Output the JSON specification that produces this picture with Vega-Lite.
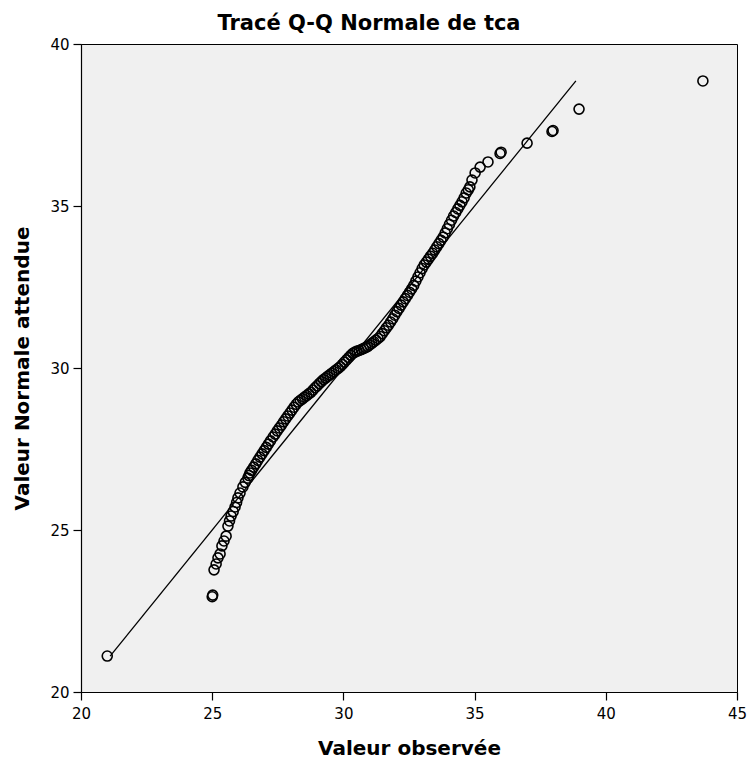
{
  "$schema": "https://vega.github.io/schema/vega-lite/v6.json",
  "width": 656,
  "height": 648,
  "autosize": "none",
  "padding": {"left": 81, "top": 44, "right": 10, "bottom": 72},
  "background": "white",
  "config": {
    "view": {"fill": "#F0F0F0", "stroke": "#000000", "strokeWidth": 1},
    "font": "DejaVu Sans",
    "axis": {
      "grid": false,
      "domainColor": "#000000",
      "domainWidth": 1.2,
      "tickColor": "#000000",
      "tickWidth": 1.2,
      "labelColor": "#000000",
      "labelFont": "DejaVu Sans",
      "labelFontSize": 15,
      "titleFont": "DejaVu Sans",
      "titleFontSize": 20,
      "titleFontWeight": "bold",
      "titleColor": "#000000"
    }
  },
  "title": {
    "text": "Tracé Q-Q Normale de tca",
    "font": "DejaVu Sans",
    "fontSize": 21,
    "fontWeight": "bold",
    "color": "#000000",
    "anchor": "middle",
    "frame": "group",
    "dx": -40,
    "offset": 3
  },
  "layer": [
    {
      "data": {"name": "line", "values": [
        {"observed": 21.11, "expected": 21.11},
        {"observed": 38.86, "expected": 38.86}
      ]},
      "mark": {"type": "line", "color": "#000000", "strokeWidth": 1.3},
      "encoding": {
        "x": {"field": "observed", "type": "quantitative"},
        "y": {"field": "expected", "type": "quantitative"}
      }
    },
    {
      "data": {"name": "points", "values": [
        {"observed": 21.0, "expected": 21.11},
        {"observed": 25.0, "expected": 22.94},
        {"observed": 25.02, "expected": 22.99},
        {"observed": 25.07, "expected": 23.77},
        {"observed": 25.15, "expected": 23.95},
        {"observed": 25.22, "expected": 24.14},
        {"observed": 25.30, "expected": 24.26},
        {"observed": 25.37, "expected": 24.51},
        {"observed": 25.45, "expected": 24.66},
        {"observed": 25.53, "expected": 24.81},
        {"observed": 25.60, "expected": 25.12},
        {"observed": 25.66, "expected": 25.28},
        {"observed": 25.72, "expected": 25.43},
        {"observed": 25.80, "expected": 25.57},
        {"observed": 25.87, "expected": 25.71},
        {"observed": 25.93, "expected": 25.85},
        {"observed": 25.98, "expected": 25.99},
        {"observed": 26.06, "expected": 26.14},
        {"observed": 26.17, "expected": 26.33},
        {"observed": 26.26, "expected": 26.47},
        {"observed": 26.36, "expected": 26.60},
        {"observed": 26.40, "expected": 26.68},
        {"observed": 26.44, "expected": 26.76},
        {"observed": 26.50, "expected": 26.84},
        {"observed": 26.58, "expected": 26.94},
        {"observed": 26.66, "expected": 27.04},
        {"observed": 26.74, "expected": 27.15},
        {"observed": 26.82, "expected": 27.25},
        {"observed": 26.90, "expected": 27.35},
        {"observed": 26.98, "expected": 27.45},
        {"observed": 27.06, "expected": 27.55},
        {"observed": 27.14, "expected": 27.65},
        {"observed": 27.22, "expected": 27.75},
        {"observed": 27.32, "expected": 27.87},
        {"observed": 27.40, "expected": 27.96},
        {"observed": 27.48, "expected": 28.06},
        {"observed": 27.56, "expected": 28.15},
        {"observed": 27.64, "expected": 28.24},
        {"observed": 27.72, "expected": 28.34},
        {"observed": 27.80, "expected": 28.43},
        {"observed": 27.88, "expected": 28.52},
        {"observed": 27.96, "expected": 28.61},
        {"observed": 28.04, "expected": 28.70},
        {"observed": 28.12, "expected": 28.79},
        {"observed": 28.20, "expected": 28.88},
        {"observed": 28.28, "expected": 28.95},
        {"observed": 28.36, "expected": 29.00},
        {"observed": 28.44, "expected": 29.05},
        {"observed": 28.52, "expected": 29.10},
        {"observed": 28.60, "expected": 29.15},
        {"observed": 28.68, "expected": 29.20},
        {"observed": 28.76, "expected": 29.25},
        {"observed": 28.84, "expected": 29.32},
        {"observed": 28.92, "expected": 29.39},
        {"observed": 29.00, "expected": 29.45},
        {"observed": 29.08, "expected": 29.52},
        {"observed": 29.16, "expected": 29.58},
        {"observed": 29.24, "expected": 29.64},
        {"observed": 29.32, "expected": 29.69},
        {"observed": 29.40, "expected": 29.74},
        {"observed": 29.48, "expected": 29.79},
        {"observed": 29.56, "expected": 29.84},
        {"observed": 29.64, "expected": 29.89},
        {"observed": 29.72, "expected": 29.94},
        {"observed": 29.80, "expected": 29.99},
        {"observed": 29.88, "expected": 30.04},
        {"observed": 29.96, "expected": 30.11},
        {"observed": 30.04, "expected": 30.18},
        {"observed": 30.12, "expected": 30.25},
        {"observed": 30.20, "expected": 30.32},
        {"observed": 30.28, "expected": 30.39},
        {"observed": 30.36, "expected": 30.45},
        {"observed": 30.44, "expected": 30.49},
        {"observed": 30.52, "expected": 30.52},
        {"observed": 30.60, "expected": 30.54},
        {"observed": 30.68, "expected": 30.57},
        {"observed": 30.76, "expected": 30.60},
        {"observed": 30.84, "expected": 30.63},
        {"observed": 30.92, "expected": 30.66},
        {"observed": 31.00, "expected": 30.71},
        {"observed": 31.08, "expected": 30.76},
        {"observed": 31.16, "expected": 30.81},
        {"observed": 31.24, "expected": 30.86},
        {"observed": 31.32, "expected": 30.91},
        {"observed": 31.40, "expected": 30.97},
        {"observed": 31.48, "expected": 31.06},
        {"observed": 31.56, "expected": 31.15},
        {"observed": 31.64, "expected": 31.24},
        {"observed": 31.72, "expected": 31.32},
        {"observed": 31.80, "expected": 31.42},
        {"observed": 31.88, "expected": 31.52},
        {"observed": 31.96, "expected": 31.63},
        {"observed": 32.04, "expected": 31.74},
        {"observed": 32.12, "expected": 31.84},
        {"observed": 32.20, "expected": 31.94},
        {"observed": 32.28, "expected": 32.04},
        {"observed": 32.36, "expected": 32.14},
        {"observed": 32.44, "expected": 32.24},
        {"observed": 32.52, "expected": 32.34},
        {"observed": 32.60, "expected": 32.44},
        {"observed": 32.68, "expected": 32.55},
        {"observed": 32.76, "expected": 32.68},
        {"observed": 32.84, "expected": 32.81},
        {"observed": 32.92, "expected": 32.94},
        {"observed": 33.00, "expected": 33.07},
        {"observed": 33.08, "expected": 33.18},
        {"observed": 33.16, "expected": 33.27},
        {"observed": 33.24, "expected": 33.36},
        {"observed": 33.32, "expected": 33.45},
        {"observed": 33.40, "expected": 33.54},
        {"observed": 33.48, "expected": 33.64},
        {"observed": 33.56, "expected": 33.74},
        {"observed": 33.64, "expected": 33.84},
        {"observed": 33.72, "expected": 33.94},
        {"observed": 33.80, "expected": 34.04},
        {"observed": 33.88, "expected": 34.17},
        {"observed": 33.96, "expected": 34.30},
        {"observed": 34.04, "expected": 34.43},
        {"observed": 34.12, "expected": 34.56},
        {"observed": 34.20, "expected": 34.69},
        {"observed": 34.28, "expected": 34.80},
        {"observed": 34.36, "expected": 34.91},
        {"observed": 34.44, "expected": 35.02},
        {"observed": 34.52, "expected": 35.13},
        {"observed": 34.60, "expected": 35.25},
        {"observed": 34.68, "expected": 35.40},
        {"observed": 34.76, "expected": 35.50},
        {"observed": 34.82, "expected": 35.59},
        {"observed": 34.90, "expected": 35.80},
        {"observed": 35.02, "expected": 36.02},
        {"observed": 35.21, "expected": 36.20},
        {"observed": 35.51, "expected": 36.36},
        {"observed": 35.97, "expected": 36.62},
        {"observed": 36.01, "expected": 36.66},
        {"observed": 37.00, "expected": 36.94},
        {"observed": 37.95, "expected": 37.30},
        {"observed": 37.99, "expected": 37.33},
        {"observed": 38.98, "expected": 37.99},
        {"observed": 43.70, "expected": 38.86}
      ]},
      "mark": {"type": "point", "shape": "circle", "filled": false, "color": "#000000", "strokeWidth": 1.6, "size": 100, "opacity": 1},
      "encoding": {
        "x": {
          "field": "observed", "type": "quantitative",
          "scale": {"domain": [20, 45], "nice": false, "zero": false},
          "axis": {"title": "Valeur observée", "values": [20, 25, 30, 35, 40, 45], "tickSize": 8, "labelPadding": 6, "titleY": 56, "titleBaseline": "middle", "labelFlush": false}
        },
        "y": {
          "field": "expected", "type": "quantitative",
          "scale": {"domain": [20, 40], "nice": false, "zero": false},
          "axis": {"title": "Valeur Normale attendue", "values": [20, 25, 30, 35, 40], "tickSize": 8, "labelPadding": 4, "titleX": -59, "titleY": 324, "titleAngle": 270, "titleBaseline": "middle", "titleAlign": "center", "labelFlush": false}
        }
      }
    }
  ]
}
